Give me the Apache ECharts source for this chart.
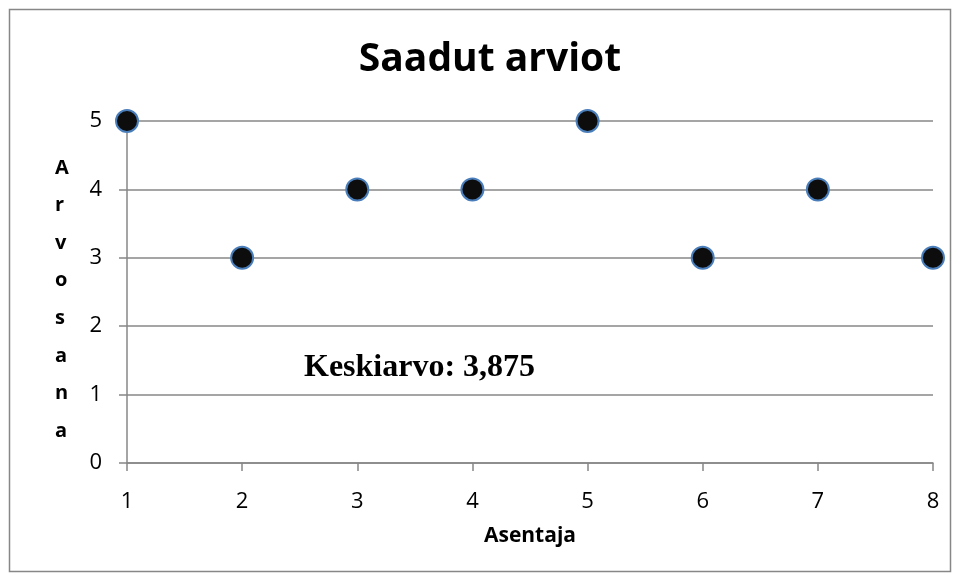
<!DOCTYPE html>
<html>
<head>
<meta charset="utf-8">
<script src="https://cdn.jsdelivr.net/npm/echarts@6/dist/echarts.min.js"></script>
<style>
  html, body { margin: 0; padding: 0; background: #fff; }
  #chart { width: 960px; height: 581px; }
</style>
</head>
<body>
<div id="chart"></div>
<script>
// data
const asentajat = [1, 2, 3, 4, 5, 6, 7, 8]
const arvosanat = [5, 3, 4, 4, 5, 3, 4, 3]
const xTicks = [1, 8, 1]   // min, max, interval
const yTicks = [0, 5, 1]

const gray = '#878787'
const font = 'Open Sans'

function renderChart() {
  const chartDom = document.getElementById('chart')
  const myChart = echarts.init(chartDom)

  const avg = arvosanat.reduce((a, b) => a + b, 0) / arvosanat.length
  const avgText = 'Keskiarvo: ' + avg.toFixed(3).replace('.', ',')
  const yName = 'Arvosana'.split('').join('\n')

  const option = {
    animation: false,
    backgroundColor: '#fff',
    title: {
      text: 'Saadut arviot',
      left: 485,
      textAlign: 'center',
      top: 35,
      textStyle: { fontFamily: font, fontWeight: 'bold', fontSize: 39, color: '#000' }
    },
    grid: { left: 127, right: 27, top: 121, bottom: 118 },
    xAxis: {
      type: 'value',
      min: xTicks[0],
      max: xTicks[1],
      interval: xTicks[2],
      name: 'Asentaja',
      nameLocation: 'middle',
      nameGap: 63,
      nameTextStyle: { fontFamily: font, fontWeight: 'bold', fontSize: 21, color: '#000' },
      axisLine: { show: true, lineStyle: { color: gray, width: 1.5 } },
      axisTick: { show: true, length: 8, lineStyle: { color: gray, width: 1.5 } },
      axisLabel: { margin: 28, fontFamily: font, fontSize: 22, color: '#000' },
      splitLine: { show: false }
    },
    yAxis: {
      type: 'value',
      min: yTicks[0],
      max: yTicks[1],
      interval: yTicks[2],
      axisLine: { show: true, lineStyle: { color: gray, width: 1.5 } },
      axisTick: { show: true, length: 8, lineStyle: { color: gray, width: 1.5 } },
      axisLabel: { margin: 25, fontFamily: font, fontSize: 22, color: '#000' },
      splitLine: { show: true, lineStyle: { color: gray, width: 1.5 } }
    },
    graphic: [
      {
        type: 'rect',
        shape: { x: 9.5, y: 9.5, width: 941, height: 562 },
        style: { fill: 'none', stroke: gray, lineWidth: 1.5 },
        silent: true
      },
      {
        type: 'text',
        left: 55,
        top: 149,
        style: {
          text: yName,
          fontFamily: font,
          fontWeight: 'bold',
          fontSize: 20,
          lineHeight: 37.6,
          fill: '#000',
          align: 'center'
        }
      },
      {
        type: 'text',
        left: 304,
        top: 352,
        style: {
          text: avgText,
          fontFamily: 'Liberation Serif',
          fontWeight: 'bold',
          fontSize: 32,
          fill: '#000'
        }
      }
    ],
    series: [
      {
        type: 'scatter',
        data: asentajat.map((x, i) => [x, arvosanat[i]]),
        symbol: 'circle',
        symbolSize: 22,
        clip: false,
        itemStyle: { color: '#0d0d0d', borderColor: '#4a7ebb', borderWidth: 2, opacity: 1 }
      }
    ]
  }
  myChart.setOption(option)
}

document.addEventListener('DOMContentLoaded', renderChart)
</script>
</body>
</html>
